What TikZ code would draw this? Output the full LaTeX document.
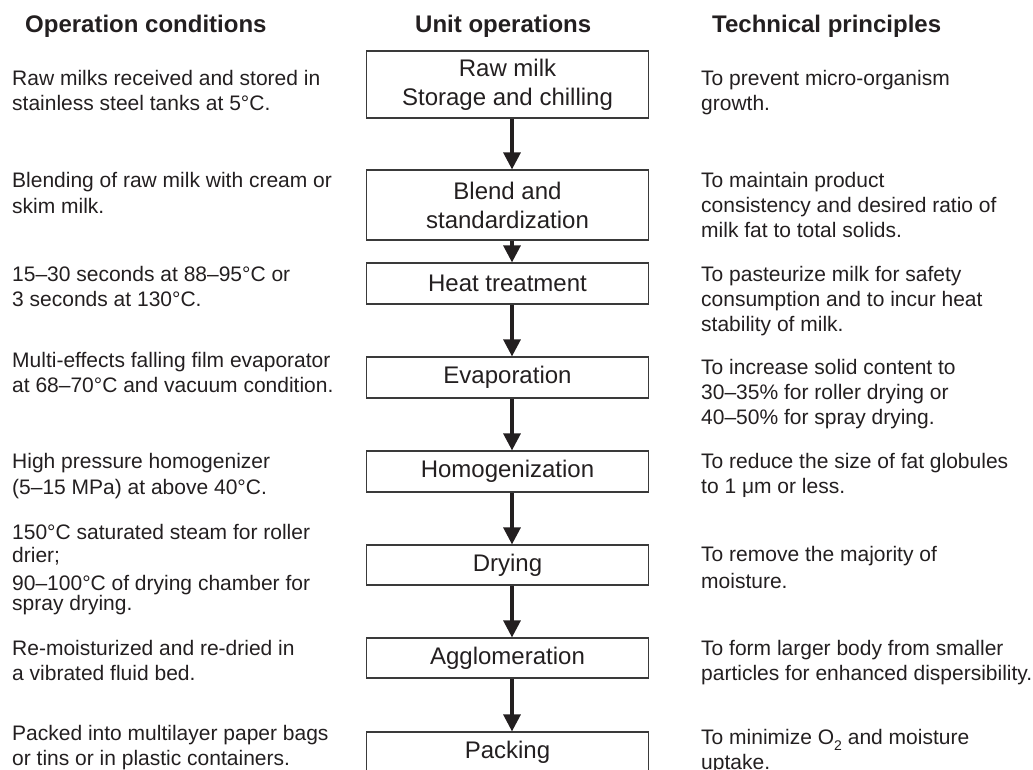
\documentclass[tikz,border=0pt]{standalone}
\usepackage{fontspec}
\setmainfont{Liberation Sans}
\usetikzlibrary{arrows.meta}
\definecolor{ink}{HTML}{231F20}
\definecolor{edge}{HTML}{3A3A3A}
\tikzset{
  body/.style={font=\fontsize{21}{25}\selectfont, text=ink, inner sep=0pt, anchor=base west},
  head/.style={font=\fontsize{24}{29}\selectfont\bfseries, text=ink, inner sep=0pt, anchor=base west},
  stage/.style={draw=edge, line width=1.2pt, minimum width=281.5pt, align=center, inner sep=0pt,
    font=\fontsize{24}{29}\selectfont, text=ink},
  flow/.style={draw=ink, line width=3.2pt, -{Triangle[width=17pt,length=17pt]}}
}
\begin{document}
\begin{tikzpicture}[x=1pt,y=-1pt]
\useasboundingbox (0,0) rectangle (1033,769);
\clip (0,0) rectangle (1033,769);
% headings
\node[head] (h1) at (25,32.5) {Operation conditions};
\node[head] (h2) at (415,32.5) {Unit operations};
\node[head] (h3) at (712,32.5) {Technical principles};
% unit operation boxes
\node[stage, minimum height=67pt] (b1) at (507.5,84.5) {Raw milk\\Storage and chilling};
\node[stage, minimum height=70pt] (b2) at (507.5,205) {Blend and\\standardization};
\node[stage, minimum height=41pt] (b3) at (507.5,283.5) {Heat treatment};
\node[stage, minimum height=41pt] (b4) at (507.5,377.5) {Evaporation};
\node[stage, minimum height=41pt] (b5) at (507.5,471.5) {Homogenization};
\node[stage, minimum height=40pt] (b6) at (507.5,565) {Drying};
\node[stage, minimum height=40pt] (b7) at (507.5,658) {Agglomeration};
\node[stage, minimum height=41pt] (b8) at (507.5,752.5) {Packing};
% arrows
\coordinate (ax) at (512,0);
\draw[flow] (b1.south -| ax) -- (b2.north -| ax);
\draw[flow] (b2.south -| ax) -- (b3.north -| ax);
\draw[flow] (b3.south -| ax) -- (b4.north -| ax);
\draw[flow] (b4.south -| ax) -- (b5.north -| ax);
\draw[flow] (b5.south -| ax) -- (b6.north -| ax);
\draw[flow] (b6.south -| ax) -- (b7.north -| ax);
\draw[flow] (b7.south -| ax) -- (b8.north -| ax);
% operation conditions
\node[body] (l1a) at (12,85.5) {Raw milks received and stored in};
\node[body] (l1b) at (12,110.5) {stainless steel tanks at 5°C.};
\node[body] (l2a) at (12,187.5) {Blending of raw milk with cream or};
\node[body] (l2b) at (12,213) {skim milk.};
\node[body] (l3a) at (12,281) {15–30 seconds at 88–95°C or};
\node[body] (l3b) at (12,306.5) {3 seconds at 130°C.};
\node[body] (l4a) at (12,367.5) {Multi-effects falling film evaporator};
\node[body] (l4b) at (12,392.5) {at 68–70°C and vacuum condition.};
\node[body] (l5a) at (12,468.5) {High pressure homogenizer};
\node[body] (l5b) at (12,494) {(5–15 MPa) at above 40°C.};
\node[body] (l6a) at (12,539.5) {150°C saturated steam for roller};
\node[body] (l6b) at (12,562.5) {drier;};
\node[body] (l7a) at (12,590.5) {90–100°C of drying chamber for};
\node[body] (l7b) at (12,610.5) {spray drying.};
\node[body] (l8a) at (12,655.5) {Re-moisturized and re-dried in};
\node[body] (l8b) at (12,680.5) {a vibrated fluid bed.};
\node[body] (l9a) at (12,740.5) {Packed into multilayer paper bags};
\node[body] (l9b) at (12,765.5) {or tins or in plastic containers.};
% technical principles
\node[body] (r1a) at (701,85.5) {To prevent micro-organism};
\node[body] (r1b) at (701,110.5) {growth.};
\node[body] (r2a) at (701,187.5) {To maintain product};
\node[body] (r2b) at (701,212.5) {consistency and desired ratio of};
\node[body] (r2c) at (701,237.5) {milk fat to total solids.};
\node[body] (r3a) at (701,281) {To pasteurize milk for safety};
\node[body] (r3b) at (701,306.5) {consumption and to incur heat};
\node[body] (r3c) at (701,331) {stability of milk.};
\node[body] (r4a) at (701,374.5) {To increase solid content to};
\node[body] (r4b) at (701,399.5) {30–35\% for roller drying or};
\node[body] (r4c) at (701,424.5) {40–50\% for spray drying.};
\node[body] (r5a) at (701,468.5) {To reduce the size of fat globules};
\node[body] (r5b) at (701,493.5) {to 1 μm or less.};
\node[body] (r6a) at (701,561) {To remove the majority of};
\node[body] (r6b) at (701,588) {moisture.};
\node[body] (r7a) at (701,655.5) {To form larger body from smaller};
\node[body] (r7b) at (701,680.5) {particles for enhanced dispersibility.};
\node[body] (r8a) at (701,744.5) {To minimize O\raisebox{-0.28em}{\fontsize{14}{14}\selectfont 2} and moisture};
\node[body] (r8b) at (701,769.5) {uptake.};
\end{tikzpicture}
\end{document}
